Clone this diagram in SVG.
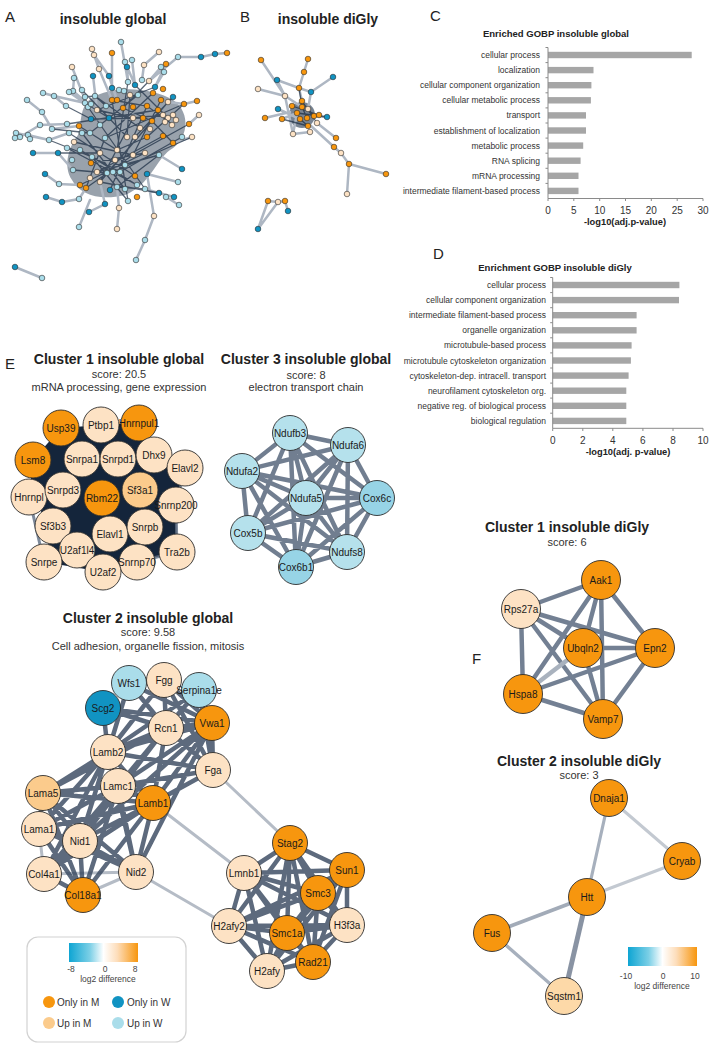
<svg xmlns="http://www.w3.org/2000/svg" width="713" height="1048" viewBox="0 0 713 1048">
<style>
text{font-family:"Liberation Sans",Arial,sans-serif;fill:#222}
.pl{font-size:15px}
.t14{font-size:14px;font-weight:bold;text-anchor:middle}
.t11{font-size:11px;text-anchor:middle;fill:#333}
.nl{font-size:10px;text-anchor:middle;fill:#1a1a1a}
.cl{font-size:8.5px;text-anchor:end;fill:#333}
.ct{font-size:9.5px;font-weight:bold;text-anchor:middle}
.tk{font-size:10px;text-anchor:middle;fill:#333}
.ax{font-size:9.3px;font-weight:bold;text-anchor:middle}
.lg{font-size:8.5px;text-anchor:middle;fill:#444}
.li{font-size:10px;fill:#333}
.o{fill:#F7960E}.u{fill:#FDE2C4}.u2{fill:#FBCB8C}.u3{fill:#FDD9A8}.w{fill:#1193C2}.b{fill:#AADDEA}.b2{fill:#B5E1EC}.b3{fill:#97D4E6}
.hb circle{stroke:#2a2a2a;stroke-width:0.6}
.node circle{stroke:#2e2e2e;stroke-width:0.9}
.bar{fill:#A6A6A6}
.axl{stroke:#8a8a8a;stroke-width:1;fill:none}
.el{fill:none;stroke:#AEB7C3;stroke-width:2.5;stroke-linecap:round}
.ed{fill:none;stroke:#172940;stroke-width:1.3;opacity:0.7}
.ek{fill:none;stroke:#34455C;stroke-width:4.5;opacity:0.8}
.ek3{fill:none;stroke:#4E5E74;stroke-width:4.5;opacity:0.8}
.ef{fill:none;stroke:#5A6A80;stroke-width:4.5;opacity:0.85}
.elt{fill:none;stroke:#B5BCC6;stroke-width:3}
</style>
<defs>
<linearGradient id="lgd" x1="0" x2="1" y1="0" y2="0">
<stop offset="0" stop-color="#0EA5D3"/>
<stop offset="0.3" stop-color="#7BCFE6"/>
<stop offset="0.5" stop-color="#FFFFFF"/>
<stop offset="0.7" stop-color="#FDDDBA"/>
<stop offset="1" stop-color="#F7960E"/>
</linearGradient>
</defs>
<rect width="713" height="1048" fill="#fff"/>

<!-- Panel labels and titles -->
<text class="pl" x="5" y="22">A</text>
<text class="pl" x="240" y="22">B</text>
<text class="pl" x="430" y="21">C</text>
<text class="pl" x="433" y="259">D</text>
<text class="pl" x="5" y="369">E</text>
<text class="pl" x="472" y="664">F</text>
<text class="t14" x="113" y="24">insoluble global</text>
<text class="t14" x="328" y="24">insoluble diGly</text>

<!-- Panel A hairball -->
<g id="netA-edges">
<path d="M92,98 C110,86 150,86 173,100 C192,113 188,140 170,150 C156,160 150,185 125,195 C100,201 80,195 72,180 C62,165 70,145 78,135 C82,120 80,105 92,98 Z" fill="#1C3048" opacity="0.45"/>
<path class="el" d="M121,42L128,82M94,55L109,76M92,49L99,69M112,53L112,88M159,52L144,65M227,53L215,54L201,57L178,57L149,81M125,62L135,85M132,60L135,85M127,67L128,82M144,65L142,80M166,64L155,87M161,67L149,81M164,72L155,87M72,67L88,107M99,69L112,100M93,76L97,110M109,76L117,100M74,78L73,91L85,103M43,93L54,96L66,106M27,100L42,112L52,129M40,125L67,124M52,129L79,126M16,133L49,140L69,133M33,153L58,153L73,170M45,174L59,184L80,185M46,197L62,202L79,199L86,188M89,212L105,204L100,182M119,208L117,187M117,229L119,208M79,227L90,200M154,216L147,174M136,260L145,240L154,216M15,267L42,278M182,169L159,155M178,182L147,174M174,197L159,193L145,189M179,205L166,197M199,115L189,124M197,101L184,104L168,102M192,137L173,143M73,91L95,110M69,92L90,107M54,96L85,103M20,137L40,125M28,135L49,140"/>
<path class="ed" d="M97,110L133,118L163,115M112,100L147,106L172,124M123,108L152,121L173,143M91,119L143,118M85,103L109,118L127,137M79,126L117,150L147,137M69,133L100,153L135,176M74,142L133,155M80,150L120,172M91,163L145,153M97,172L163,136M86,188L105,138M100,182L133,118M110,190L147,106M67,124L158,110M88,107L145,189M128,82L117,150M135,85L168,118M149,81L123,108M155,87L97,110M82,90L109,118M66,106L91,119M52,129L90,133M49,140L92,157M58,153L100,153M73,170L107,173M92,157L137,185M117,187L159,155M107,173L152,121M113,172L192,137M105,138L184,104M130,95L127,137M161,100L133,155M168,102L100,182M85,97L95,96L106,106M95,96L140,128M138,95L90,133M153,93L105,138M173,97L135,137M184,104L147,137M189,124L133,155M182,137L120,172M159,155L97,172M145,153L80,185M133,155L86,188M67,148L137,185M92,157L128,201M100,182L159,193M117,187L145,189M125,189L82,133M128,201L112,100"/>
</g>
<g id="netA-nodes" class="hb">
<circle id="a1" class="b" cx="121" cy="42" r="2.8"/><circle id="a2" class="u" cx="92" cy="49" r="2.8"/><circle id="a3" class="u" cx="94" cy="55" r="2.8"/><circle id="a4" class="o" cx="112" cy="53" r="2.8"/><circle id="a5" class="u" cx="159" cy="52" r="2.8"/><circle id="a6" class="w" cx="215" cy="54" r="2.8"/><circle id="a7" class="o" cx="227" cy="53" r="2.8"/><circle id="a8" class="w" cx="201" cy="57" r="2.8"/><circle id="a9" class="b" cx="178" cy="57" r="2.8"/><circle id="a10" class="b" cx="125" cy="62" r="2.8"/><circle id="a11" class="b" cx="132" cy="60" r="2.8"/><circle id="a12" class="w" cx="127" cy="67" r="2.8"/><circle id="a13" class="u" cx="144" cy="65" r="2.8"/><circle id="a14" class="o" cx="166" cy="64" r="2.8"/><circle id="a15" class="b" cx="161" cy="67" r="2.8"/><circle id="a16" class="b" cx="164" cy="72" r="2.8"/><circle id="a17" class="u" cx="72" cy="67" r="2.8"/><circle id="a18" class="u" cx="99" cy="69" r="2.8"/><circle id="a19" class="w" cx="93" cy="76" r="2.8"/><circle id="a20" class="w" cx="109" cy="76" r="2.8"/>
<circle id="a21" class="b" cx="74" cy="78" r="2.8"/><circle id="a22" class="b" cx="128" cy="82" r="2.8"/><circle id="a23" class="w" cx="135" cy="85" r="2.8"/><circle id="a24" class="b" cx="142" cy="80" r="2.8"/><circle id="a25" class="u" cx="149" cy="81" r="2.8"/><circle id="a26" class="w" cx="155" cy="87" r="2.8"/><circle id="a27" class="o" cx="163" cy="89" r="2.8"/><circle id="a28" class="w" cx="112" cy="88" r="2.8"/><circle id="a29" class="b" cx="119" cy="90" r="2.8"/><circle id="a30" class="b" cx="124" cy="91" r="2.8"/><circle id="a31" class="b" cx="73" cy="91" r="2.8"/><circle id="a32" class="b" cx="69" cy="92" r="2.8"/><circle id="a33" class="b" cx="82" cy="90" r="2.8"/><circle id="a34" class="b" cx="54" cy="96" r="2.8"/><circle id="a35" class="b" cx="43" cy="93" r="2.8"/><circle id="a36" class="b" cx="27" cy="100" r="2.8"/><circle id="a37" class="b" cx="42" cy="112" r="2.8"/><circle id="a38" class="b" cx="85" cy="97" r="2.8"/><circle id="a39" class="b" cx="95" cy="96" r="2.8"/><circle id="a40" class="o" cx="112" cy="100" r="2.8"/>
<circle id="a41" class="o" cx="117" cy="100" r="2.8"/><circle id="a42" class="u" cx="130" cy="95" r="2.8"/><circle id="a43" class="b" cx="138" cy="95" r="2.8"/><circle id="a44" class="o" cx="153" cy="93" r="2.8"/><circle id="a45" class="o" cx="161" cy="100" r="2.8"/><circle id="a46" class="w" cx="173" cy="97" r="2.8"/><circle id="a47" class="o" cx="184" cy="104" r="2.8"/><circle id="a48" class="o" cx="197" cy="101" r="2.8"/><circle id="a49" class="u" cx="199" cy="115" r="2.8"/><circle id="a50" class="u" cx="168" cy="102" r="2.8"/><circle id="a51" class="b" cx="66" cy="106" r="2.8"/><circle id="a52" class="b" cx="85" cy="103" r="2.8"/><circle id="a53" class="b" cx="88" cy="107" r="2.8"/><circle id="a54" class="b" cx="91" cy="104" r="2.8"/><circle id="a55" class="u" cx="97" cy="110" r="2.8"/><circle id="a56" class="b" cx="106" cy="106" r="2.8"/><circle id="a57" class="o" cx="123" cy="108" r="2.8"/><circle id="a58" class="o" cx="133" cy="107" r="2.8"/><circle id="a59" class="o" cx="147" cy="106" r="2.8"/><circle id="a60" class="o" cx="158" cy="110" r="2.8"/>
<circle id="a61" class="u" cx="163" cy="115" r="2.8"/><circle id="a62" class="u" cx="168" cy="118" r="2.8"/><circle id="a63" class="u" cx="173" cy="115" r="2.8"/><circle id="a64" class="u" cx="176" cy="120" r="2.8"/><circle id="a65" class="u" cx="165" cy="122" r="2.8"/><circle id="a66" class="u" cx="172" cy="125" r="2.8"/><circle id="a67" class="b" cx="40" cy="125" r="2.8"/><circle id="a68" class="b" cx="52" cy="129" r="2.8"/><circle id="a69" class="o" cx="79" cy="126" r="2.8"/><circle id="a70" class="b" cx="67" cy="124" r="2.8"/><circle id="a71" class="w" cx="91" cy="119" r="2.8"/><circle id="a72" class="w" cx="109" cy="118" r="2.8"/><circle id="a73" class="u" cx="133" cy="118" r="2.8"/><circle id="a74" class="o" cx="143" cy="118" r="2.8"/><circle id="a75" class="o" cx="152" cy="121" r="2.8"/><circle id="a76" class="o" cx="189" cy="124" r="2.8"/><circle id="a77" class="u" cx="192" cy="137" r="2.8"/><circle id="a78" class="b" cx="182" cy="137" r="2.8"/><circle id="a79" class="o" cx="173" cy="143" r="2.8"/><circle id="a80" class="b" cx="16" cy="133" r="2.8"/>
<circle id="a81" class="b" cx="20" cy="137" r="2.8"/><circle id="a82" class="b" cx="28" cy="135" r="2.8"/><circle id="a83" class="b" cx="15" cy="138" r="2.8"/><circle id="a84" class="b" cx="30" cy="139" r="2.8"/><circle id="a85" class="b" cx="49" cy="140" r="2.8"/><circle id="a86" class="b" cx="69" cy="133" r="2.8"/><circle id="a87" class="u" cx="74" cy="142" r="2.8"/><circle id="a88" class="b" cx="82" cy="133" r="2.8"/><circle id="a89" class="b" cx="90" cy="133" r="2.8"/><circle id="a90" class="b" cx="105" cy="138" r="2.8"/><circle id="a91" class="u" cx="127" cy="137" r="2.8"/><circle id="a92" class="u" cx="135" cy="137" r="2.8"/><circle id="a93" class="o" cx="147" cy="137" r="2.8"/><circle id="a94" class="o" cx="163" cy="136" r="2.8"/><circle id="a95" class="w" cx="33" cy="153" r="2.8"/><circle id="a96" class="w" cx="58" cy="153" r="2.8"/><circle id="a97" class="b" cx="67" cy="148" r="2.8"/><circle id="a98" class="b" cx="80" cy="150" r="2.8"/><circle id="a99" class="b" cx="92" cy="157" r="2.8"/><circle id="a100" class="u" cx="100" cy="153" r="2.8"/>
<circle id="a101" class="u" cx="117" cy="150" r="2.8"/><circle id="a102" class="u" cx="133" cy="155" r="2.8"/><circle id="a103" class="u" cx="145" cy="153" r="2.8"/><circle id="a104" class="b" cx="159" cy="155" r="2.8"/><circle id="a105" class="w" cx="182" cy="169" r="2.8"/><circle id="a106" class="w" cx="45" cy="174" r="2.8"/><circle id="a107" class="b" cx="59" cy="184" r="2.8"/><circle id="a108" class="b" cx="73" cy="170" r="2.8"/><circle id="a109" class="o" cx="91" cy="163" r="2.8"/><circle id="a110" class="u" cx="97" cy="172" r="2.8"/><circle id="a111" class="b" cx="107" cy="173" r="2.8"/><circle id="a112" class="b" cx="113" cy="172" r="2.8"/><circle id="a113" class="b" cx="120" cy="172" r="2.8"/><circle id="a114" class="o" cx="135" cy="176" r="2.8"/><circle id="a115" class="w" cx="147" cy="174" r="2.8"/><circle id="a116" class="o" cx="80" cy="185" r="2.8"/><circle id="a117" class="o" cx="86" cy="188" r="2.8"/><circle id="a118" class="u" cx="100" cy="182" r="2.8"/><circle id="a119" class="w" cx="110" cy="190" r="2.8"/><circle id="a120" class="b" cx="117" cy="187" r="2.8"/>
<circle id="a121" class="b" cx="125" cy="189" r="2.8"/><circle id="a122" class="b" cx="137" cy="185" r="2.8"/><circle id="a123" class="b" cx="145" cy="189" r="2.8"/><circle id="a124" class="b" cx="178" cy="182" r="2.8"/><circle id="a125" class="w" cx="46" cy="197" r="2.8"/><circle id="a126" class="w" cx="62" cy="202" r="2.8"/><circle id="a127" class="b" cx="79" cy="199" r="2.8"/><circle id="a128" class="w" cx="89" cy="212" r="2.8"/><circle id="a129" class="w" cx="105" cy="204" r="2.8"/><circle id="a130" class="u" cx="119" cy="208" r="2.8"/><circle id="a131" class="b" cx="128" cy="201" r="2.8"/><circle id="a132" class="o" cx="137" cy="197" r="2.8"/><circle id="a133" class="w" cx="159" cy="193" r="2.8"/><circle id="a134" class="b" cx="166" cy="197" r="2.8"/><circle id="a135" class="w" cx="174" cy="197" r="2.8"/><circle id="a136" class="b" cx="179" cy="205" r="2.8"/><circle id="a137" class="b" cx="79" cy="227" r="2.8"/><circle id="a138" class="u" cx="117" cy="229" r="2.8"/><circle id="a139" class="u" cx="154" cy="216" r="2.8"/><circle id="a140" class="b" cx="145" cy="240" r="2.8"/>
<circle id="a141" class="b" cx="136" cy="260" r="2.8"/><circle id="a142" class="w" cx="15" cy="267" r="2.8"/><circle id="a143" class="b" cx="42" cy="278" r="2.8"/><circle id="a144" class="u" cx="140" cy="128" r="2.8"/><circle id="a145" class="u" cx="150" cy="129" r="2.8"/><circle id="a146" class="b" cx="100" cy="125" r="2.8"/><circle id="a147" class="u" cx="115" cy="160" r="2.8"/><circle id="a148" class="b" cx="125" cy="165" r="2.8"/><circle id="a149" class="u" cx="90" cy="178" r="2.8"/><circle id="a150" class="b" cx="72" cy="160" r="2.8"/>
</g>

<!-- Panel B network -->
<g id="netB-edges">
<circle cx="302" cy="115" r="13" fill="#1C3048" opacity="0.6"/>
<path class="el" d="M261,60L285,96M308,59L304,72L299,88L302,101M333,77L311,92M277,80L285,96M258,89L285,96L302,107M311,92L308,109M278,109L300,119M265,118L290,112M282,119L297,113M293,134L310,132M293,134L297,113M327,117L314,116M336,138L317,123M334,147L341,153L349,164L347,194M349,164L386,174M334,147L310,125M268,201L278,202L285,201M268,201L258,229M278,202L258,229M285,201L288,211M299,88L311,92L308,109M277,80L299,88M285,96L293,134"/>
<path class="ed" d="M292,106L319,115M297,113L327,117M300,119L308,126M302,107L307,118M308,109L314,116M282,119L308,126M302,101L317,123M299,88L302,107"/>
</g>
<g id="netB-nodes" class="hb">
<circle id="b1" class="o" cx="261" cy="60" r="2.8"/><circle id="b2" class="o" cx="308" cy="59" r="2.8"/><circle id="b3" class="o" cx="304" cy="72" r="2.8"/><circle id="b4" class="w" cx="333" cy="77" r="2.8"/><circle id="b5" class="w" cx="277" cy="80" r="2.8"/><circle id="b6" class="u" cx="258" cy="89" r="2.8"/><circle id="b7" class="o" cx="299" cy="88" r="2.8"/><circle id="b8" class="w" cx="311" cy="92" r="2.8"/><circle id="b9" class="u" cx="285" cy="96" r="2.8"/><circle id="b10" class="o" cx="302" cy="101" r="2.8"/><circle id="b11" class="o" cx="292" cy="106" r="2.8"/><circle id="b12" class="o" cx="302" cy="107" r="2.8"/><circle id="b13" class="u" cx="308" cy="109" r="2.8"/><circle id="b14" class="w" cx="278" cy="109" r="2.8"/><circle id="b15" class="o" cx="297" cy="113" r="2.8"/><circle id="b16" class="o" cx="265" cy="118" r="2.8"/><circle id="b17" class="o" cx="282" cy="119" r="2.8"/><circle id="b18" class="o" cx="300" cy="119" r="2.8"/><circle id="b19" class="o" cx="307" cy="118" r="2.8"/><circle id="b20" class="o" cx="314" cy="116" r="2.8"/>
<circle id="b21" class="o" cx="319" cy="115" r="2.8"/><circle id="b22" class="w" cx="327" cy="117" r="2.8"/><circle id="b23" class="u" cx="317" cy="123" r="2.8"/><circle id="b24" class="o" cx="308" cy="126" r="2.8"/><circle id="b25" class="u" cx="293" cy="134" r="2.8"/><circle id="b26" class="u" cx="310" cy="132" r="2.8"/><circle id="b27" class="o" cx="336" cy="138" r="2.8"/><circle id="b28" class="o" cx="334" cy="147" r="2.8"/><circle id="b29" class="u" cx="341" cy="153" r="2.8"/><circle id="b30" class="o" cx="349" cy="164" r="2.8"/><circle id="b31" class="u" cx="347" cy="194" r="2.8"/><circle id="b32" class="o" cx="386" cy="174" r="2.8"/><circle id="b33" class="o" cx="268" cy="201" r="2.8"/><circle id="b34" class="u" cx="278" cy="202" r="2.8"/><circle id="b35" class="o" cx="285" cy="201" r="2.8"/><circle id="b36" class="w" cx="288" cy="211" r="2.8"/><circle id="b37" class="w" cx="258" cy="229" r="2.8"/>
</g>

<!-- Panel C chart -->
<g id="chartC">
<text class="ct" x="556" y="36.5">Enriched GOBP insoluble global</text>
<rect class="bar" x="548" y="51.8" width="143.7" height="6.4"/>
<rect class="bar" x="548" y="66.9" width="45.5" height="6.4"/>
<rect class="bar" x="548" y="82" width="43.4" height="6.4"/>
<rect class="bar" x="548" y="97.1" width="42.9" height="6.4"/>
<rect class="bar" x="548" y="112.2" width="38" height="6.4"/>
<rect class="bar" x="548" y="127.3" width="38" height="6.4"/>
<rect class="bar" x="548" y="142.4" width="35.2" height="6.4"/>
<rect class="bar" x="548" y="157.5" width="32.6" height="6.4"/>
<rect class="bar" x="548" y="172.6" width="30.5" height="6.4"/>
<rect class="bar" x="548" y="187.7" width="30.5" height="6.4"/>
<text class="cl" x="540" y="58">cellular process</text>
<text class="cl" x="540" y="73.1">localization</text>
<text class="cl" x="540" y="88.2">cellular component organization</text>
<text class="cl" x="540" y="103.3">cellular metabolic process</text>
<text class="cl" x="540" y="118.4">transport</text>
<text class="cl" x="540" y="133.5">establishment of localization</text>
<text class="cl" x="540" y="148.6">metabolic process</text>
<text class="cl" x="540" y="163.7">RNA splicing</text>
<text class="cl" x="540" y="178.8">mRNA processing</text>
<text class="cl" x="540" y="193.9">intermediate filament-based process</text>
<path class="axl" d="M548,47.5V198.5H703M545.5,47.5H548M545.5,62.6H548M545.5,77.7H548M545.5,92.8H548M545.5,107.9H548M545.5,123H548M545.5,138.1H548M545.5,153.2H548M545.5,168.3H548M545.5,183.4H548M548,198.5V201M573.8,198.5V201M599.7,198.5V201M625.5,198.5V201M651.3,198.5V201M677.2,198.5V201M703,198.5V201"/>
<text class="tk" x="548" y="214">0</text><text class="tk" x="573.8" y="214">5</text><text class="tk" x="599.7" y="214">10</text><text class="tk" x="625.5" y="214">15</text><text class="tk" x="651.3" y="214">20</text><text class="tk" x="677.2" y="214">25</text><text class="tk" x="703" y="214">30</text>
<text class="ax" x="625" y="224.5">-log10(adj.p-value)</text>
</g>

<!-- Panel D chart -->
<g id="chartD">
<text class="ct" x="555" y="271">Enrichment GOBP insoluble diGly</text>
<rect class="bar" x="552.7" y="281.8" width="126.7" height="6.4"/>
<rect class="bar" x="552.7" y="296.9" width="126.3" height="6.4"/>
<rect class="bar" x="552.7" y="312" width="83.9" height="6.4"/>
<rect class="bar" x="552.7" y="327.1" width="83.9" height="6.4"/>
<rect class="bar" x="552.7" y="342.2" width="78.9" height="6.4"/>
<rect class="bar" x="552.7" y="357.3" width="78.2" height="6.4"/>
<rect class="bar" x="552.7" y="372.4" width="75.9" height="6.4"/>
<rect class="bar" x="552.7" y="387.5" width="73.6" height="6.4"/>
<rect class="bar" x="552.7" y="402.6" width="73.6" height="6.4"/>
<rect class="bar" x="552.7" y="417.7" width="73.6" height="6.4"/>
<text class="cl" x="546" y="288">cellular process</text>
<text class="cl" x="546" y="303.1">cellular component organization</text>
<text class="cl" x="546" y="318.2">intermediate filament-based process</text>
<text class="cl" x="546" y="333.3">organelle organization</text>
<text class="cl" x="546" y="348.4">microtubule-based process</text>
<text class="cl" x="546" y="363.5">microtubule cytoskeleton organization</text>
<text class="cl" x="546" y="378.6">cytoskeleton-dep. intracell. transport</text>
<text class="cl" x="546" y="393.7">neurofilament cytoskeleton org.</text>
<text class="cl" x="546" y="408.8">negative reg. of biological process</text>
<text class="cl" x="546" y="423.9">biological regulation</text>
<path class="axl" d="M552.7,277.5V428.3H703M550.2,277.5H552.7M550.2,292.6H552.7M550.2,307.7H552.7M550.2,322.7H552.7M550.2,337.8H552.7M550.2,352.9H552.7M550.2,368H552.7M550.2,383.1H552.7M550.2,398.1H552.7M550.2,413.2H552.7M552.7,428.3V431M582.8,428.3V431M612.8,428.3V431M642.9,428.3V431M673,428.3V431M703,428.3V431"/>
<text class="tk" x="552.7" y="444.3">0</text><text class="tk" x="582.8" y="444.3">2</text><text class="tk" x="612.8" y="444.3">4</text><text class="tk" x="642.9" y="444.3">6</text><text class="tk" x="673" y="444.3">8</text><text class="tk" x="703" y="444.3">10</text>
<text class="ax" x="628" y="455">-log10(adj. p-value)</text>
</g>

<!-- E titles -->
<text class="t14" x="119" y="364">Cluster 1 insoluble global</text>
<text class="t11" x="119" y="377.5">score: 20.5</text>
<text class="t11" x="119" y="390.5">mRNA processing, gene expression</text>
<text class="t14" x="306" y="364">Cluster 3 insoluble global</text>
<text class="t11" x="306" y="378.5">score: 8</text>
<text class="t11" x="306" y="391">electron transport chain</text>
<text class="t14" x="148" y="622.5">Cluster 2 insoluble global</text>
<text class="t11" x="148" y="636">score: 9.58</text>
<text class="t11" x="148" y="649.5">Cell adhesion, organelle fission, mitosis</text>
<text class="t14" x="567" y="532">Cluster 1 insoluble diGly</text>
<text class="t11" x="567" y="546">score: 6</text>
<text class="t14" x="579" y="766">Cluster 2 insoluble diGly</text>
<text class="t11" x="579" y="779">score: 3</text>

<!-- connectors -->
<g id="connectors">
<path d="M33,460L61,428L101,425L139,423L154,455L185,468L176,505L177,552L137,562L103,572L44,562L53,526L29,497Z" fill="#14253B"/>
<path fill="none" stroke="#5E6D82" stroke-width="3" opacity="0.8" d="M176,505L177,552M185,468L176,505M29,497L44,562M137,562L177,552"/>
<path class="ek3" d="M290,433L348,445M290,433L242,471M290,433L306,498M290,433L377,498M290,433L248,533M290,433L296,567M290,433L347,552M348,445L242,471M348,445L306,498M348,445L377,498M348,445L248,533M348,445L296,567M348,445L347,552M242,471L306,498M242,471L377,498M242,471L248,533M242,471L296,567M242,471L347,552M306,498L377,498M306,498L248,533M306,498L296,567M306,498L347,552M377,498L248,533M377,498L296,567M377,498L347,552M248,533L296,567M248,533L347,552M296,567L347,552"/>
<path class="elt" d="M213,770L290,843M153,803L244,873M136,872L229,926M44,874L39,829M83,895L136,872M44,874L136,872"/>
<path class="ek" d="M103,708L166,728M103,708L108,752M103,708L212,723M129,683L166,728M129,683L212,723M129,683L108,752M164,680L166,728M164,680L212,723M164,680L213,770M164,680L108,752M199,690L166,728M199,690L213,770M199,690L108,752M166,728L153,803M166,728L118,786M166,728L43,793M166,728L80,841M166,728L108,752M166,728L212,723M166,728L213,770M212,723L153,803M212,723L213,770M212,723L118,786M212,723L108,752M212,723L80,841M212,723L136,872M108,752L118,786M108,752L153,803M108,752L43,793M108,752L39,829M108,752L80,841M108,752L136,872M108,752L44,874M108,752L213,770M118,786L153,803M118,786L43,793M118,786L39,829M118,786L80,841M118,786L136,872M118,786L83,895M118,786L44,874M118,786L213,770M153,803L43,793M153,803L39,829M153,803L80,841M153,803L136,872M153,803L83,895M153,803L213,770M153,803L44,874M43,793L39,829M43,793L80,841M43,793L136,872M43,793L83,895M39,829L80,841M39,829L83,895M39,829L136,872M80,841L44,874M80,841L83,895M80,841L136,872M44,874L83,895"/>
<path class="ek" d="M290,843L244,873M290,843L347,870M290,843L318,893M290,843L347,925M290,843L229,926M290,843L287,933M290,843L313,962M290,843L267,971M244,873L347,870M244,873L318,893M244,873L347,925M244,873L229,926M244,873L287,933M244,873L313,962M244,873L267,971M347,870L318,893M347,870L347,925M347,870L229,926M347,870L287,933M347,870L313,962M347,870L267,971M318,893L347,925M318,893L229,926M318,893L287,933M318,893L313,962M318,893L267,971M347,925L229,926M347,925L287,933M347,925L313,962M347,925L267,971M229,926L287,933M229,926L313,962M229,926L267,971M287,933L313,962M287,933L267,971M313,962L267,971"/>
<path class="ef" d="M601,580L521,609M601,580L583,648M601,580L655,648M601,580L523,694M601,580L603,719M521,609L583,648M521,609L655,648M521,609L523,694M521,609L603,719M583,648L655,648M583,648L603,719M655,648L523,694M655,648L603,719M523,694L603,719"/>
<path d="M583,648L523,694" fill="none" stroke="#A9B2BE" stroke-width="4.5"/>
<path fill="none" stroke="#A7B0BD" stroke-width="3.2" d="M609,798L587,897M492,933L564,996"/>
<path fill="none" stroke="#C3C9D1" stroke-width="3" d="M609,798L682,861M587,897L682,861"/>
<path fill="none" stroke="#A2ABB8" stroke-width="3.8" d="M587,897L492,933"/>
<path fill="none" stroke="#8993A3" stroke-width="5" d="M587,897L564,996"/>
</g>

<!-- Cluster 1 nodes -->
<g id="n-Usp39" class="node"><circle cx="61" cy="428" r="18" class="o"/><text class="nl" x="61" y="431.5">Usp39</text></g>
<g id="n-Ptbp1" class="node"><circle cx="101" cy="425" r="18" class="u"/><text class="nl" x="101" y="428.5">Ptbp1</text></g>
<g id="n-Hnrnpul1" class="node"><circle cx="139" cy="423" r="18" class="o"/><text class="nl" x="139" y="426.5">Hnrnpul1</text></g>
<g id="n-Lsm8" class="node"><circle cx="33" cy="460" r="18" class="o"/><text class="nl" x="33" y="463.5">Lsm8</text></g>
<g id="n-Snrpa1" class="node"><circle cx="82" cy="459" r="18" class="u"/><text class="nl" x="82" y="462.5">Snrpa1</text></g>
<g id="n-Snrpd1" class="node"><circle cx="118" cy="459" r="18" class="u"/><text class="nl" x="118" y="462.5">Snrpd1</text></g>
<g id="n-Dhx9" class="node"><circle cx="154" cy="455" r="18" class="u"/><text class="nl" x="154" y="458.5">Dhx9</text></g>
<g id="n-Elavl2" class="node"><circle cx="185" cy="468" r="18" class="u"/><text class="nl" x="185" y="471.5">Elavl2</text></g>
<g id="n-Hnrnpl" class="node"><circle cx="29" cy="497" r="18" class="u"/><text class="nl" x="29" y="500.5">Hnrnpl</text></g>
<g id="n-Snrpd3" class="node"><circle cx="63" cy="490" r="18" class="u"/><text class="nl" x="63" y="493.5">Snrpd3</text></g>
<g id="n-Rbm22" class="node"><circle cx="102" cy="498" r="18" class="o"/><text class="nl" x="102" y="501.5">Rbm22</text></g>
<g id="n-Sf3a1" class="node"><circle cx="140" cy="490" r="18" class="u2"/><text class="nl" x="140" y="493.5">Sf3a1</text></g>
<g id="n-Snrnp200" class="node"><circle cx="176" cy="505" r="18" class="u"/><text class="nl" x="176" y="508.5">Snrnp200</text></g>
<g id="n-Sf3b3" class="node"><circle cx="53" cy="526" r="18" class="u"/><text class="nl" x="53" y="529.5">Sf3b3</text></g>
<g id="n-Elavl1" class="node"><circle cx="110" cy="534" r="18" class="u"/><text class="nl" x="110" y="537.5">Elavl1</text></g>
<g id="n-Snrpb" class="node"><circle cx="145" cy="527" r="18" class="u"/><text class="nl" x="145" y="530.5">Snrpb</text></g>
<g id="n-Tra2b" class="node"><circle cx="177" cy="552" r="18" class="u"/><text class="nl" x="177" y="555.5">Tra2b</text></g>
<g id="n-U2af1l4" class="node"><circle cx="77" cy="550" r="18" class="u"/><text class="nl" x="77" y="553.5">U2af1l4</text></g>
<g id="n-Snrpe" class="node"><circle cx="44" cy="562" r="18" class="u"/><text class="nl" x="44" y="565.5">Snrpe</text></g>
<g id="n-Snrnp70" class="node"><circle cx="137" cy="562" r="18" class="u"/><text class="nl" x="137" y="565.5">Snrnp70</text></g>
<g id="n-U2af2" class="node"><circle cx="103" cy="572" r="18" class="u"/><text class="nl" x="103" y="575.5">U2af2</text></g>

<!-- Cluster 3 nodes -->
<g id="n-Ndufb3" class="node"><circle cx="290" cy="433" r="17.5" class="b2"/><text class="nl" x="290" y="436.5">Ndufb3</text></g>
<g id="n-Ndufa6" class="node"><circle cx="348" cy="445" r="17.5" class="b2"/><text class="nl" x="348" y="448.5">Ndufa6</text></g>
<g id="n-Ndufa2" class="node"><circle cx="242" cy="471" r="17.5" class="b2"/><text class="nl" x="242" y="474.5">Ndufa2</text></g>
<g id="n-Ndufa5" class="node"><circle cx="306" cy="498" r="17.5" class="b2"/><text class="nl" x="306" y="501.5">Ndufa5</text></g>
<g id="n-Cox6c" class="node"><circle cx="377" cy="498" r="17.5" class="b3"/><text class="nl" x="377" y="501.5">Cox6c</text></g>
<g id="n-Cox5b" class="node"><circle cx="248" cy="533" r="17.5" class="b2"/><text class="nl" x="248" y="536.5">Cox5b</text></g>
<g id="n-Cox6b1" class="node"><circle cx="296" cy="567" r="17.5" class="b3"/><text class="nl" x="296" y="570.5">Cox6b1</text></g>
<g id="n-Ndufs8" class="node"><circle cx="347" cy="552" r="17.5" class="b2"/><text class="nl" x="347" y="555.5">Ndufs8</text></g>

<!-- Cluster 2 nodes -->
<g id="n-Wfs1" class="node"><circle cx="129" cy="683" r="17.5" class="b"/><text class="nl" x="129" y="686.5">Wfs1</text></g>
<g id="n-Fgg" class="node"><circle cx="164" cy="680" r="17.5" class="u"/><text class="nl" x="164" y="683.5">Fgg</text></g>
<g id="n-Serpina1e" class="node"><circle cx="199" cy="690" r="17.5" class="b"/><text class="nl" x="199" y="693.5">Serpina1e</text></g>
<g id="n-Scg2" class="node"><circle cx="103" cy="708" r="17.5" class="w"/><text class="nl" x="103" y="711.5">Scg2</text></g>
<g id="n-Rcn1" class="node"><circle cx="166" cy="728" r="17.5" class="u"/><text class="nl" x="166" y="731.5">Rcn1</text></g>
<g id="n-Vwa1" class="node"><circle cx="212" cy="723" r="17.5" class="o"/><text class="nl" x="212" y="726.5">Vwa1</text></g>
<g id="n-Lamb2" class="node"><circle cx="108" cy="752" r="17.5" class="u"/><text class="nl" x="108" y="755.5">Lamb2</text></g>
<g id="n-Fga" class="node"><circle cx="213" cy="770" r="17.5" class="u"/><text class="nl" x="213" y="773.5">Fga</text></g>
<g id="n-Lamc1" class="node"><circle cx="118" cy="786" r="17.5" class="u"/><text class="nl" x="118" y="789.5">Lamc1</text></g>
<g id="n-Lama5" class="node"><circle cx="43" cy="793" r="17.5" class="u2"/><text class="nl" x="43" y="796.5">Lama5</text></g>
<g id="n-Lamb1" class="node"><circle cx="153" cy="803" r="17.5" class="o"/><text class="nl" x="153" y="806.5">Lamb1</text></g>
<g id="n-Lama1" class="node"><circle cx="39" cy="829" r="17.5" class="u"/><text class="nl" x="39" y="832.5">Lama1</text></g>
<g id="n-Nid1" class="node"><circle cx="80" cy="841" r="17.5" class="u"/><text class="nl" x="80" y="844.5">Nid1</text></g>
<g id="n-Col4a1" class="node"><circle cx="44" cy="874" r="17.5" class="u"/><text class="nl" x="44" y="877.5">Col4a1</text></g>
<g id="n-Nid2" class="node"><circle cx="136" cy="872" r="17.5" class="u"/><text class="nl" x="136" y="875.5">Nid2</text></g>
<g id="n-Col18a1" class="node"><circle cx="83" cy="895" r="17.5" class="o"/><text class="nl" x="83" y="898.5">Col18a1</text></g>
<g id="n-Stag2" class="node"><circle cx="290" cy="843" r="17.5" class="o"/><text class="nl" x="290" y="846.5">Stag2</text></g>
<g id="n-Lmnb1" class="node"><circle cx="244" cy="873" r="17.5" class="u"/><text class="nl" x="244" y="876.5">Lmnb1</text></g>
<g id="n-Sun1" class="node"><circle cx="347" cy="870" r="17.5" class="o"/><text class="nl" x="347" y="873.5">Sun1</text></g>
<g id="n-Smc3" class="node"><circle cx="318" cy="893" r="17.5" class="o"/><text class="nl" x="318" y="896.5">Smc3</text></g>
<g id="n-H3f3a" class="node"><circle cx="347" cy="925" r="17.5" class="u"/><text class="nl" x="347" y="928.5">H3f3a</text></g>
<g id="n-H2afy2" class="node"><circle cx="229" cy="926" r="17.5" class="u"/><text class="nl" x="229" y="929.5">H2afy2</text></g>
<g id="n-Smc1a" class="node"><circle cx="287" cy="933" r="17.5" class="o"/><text class="nl" x="287" y="936.5">Smc1a</text></g>
<g id="n-Rad21" class="node"><circle cx="313" cy="962" r="17.5" class="o"/><text class="nl" x="313" y="965.5">Rad21</text></g>
<g id="n-H2afy" class="node"><circle cx="267" cy="971" r="17.5" class="u"/><text class="nl" x="267" y="974.5">H2afy</text></g>

<!-- Legend E -->
<g id="legendE">
<rect x="27" y="937" width="159" height="105" rx="11" fill="#fff" stroke="#D2D2D2" stroke-width="1.2"/>
<rect x="69" y="943" width="69" height="19" fill="url(#lgd)"/>
<text class="lg" x="71" y="972">-8</text><text class="lg" x="105" y="972">0</text><text class="lg" x="135" y="972">8</text>
<text class="lg" x="108" y="982">log2 difference</text>
<circle cx="49" cy="1002" r="6" class="o"/><text class="li" x="57" y="1005.5">Only in M</text>
<circle cx="118" cy="1002" r="6" class="w"/><text class="li" x="127" y="1005.5">Only in W</text>
<circle cx="49" cy="1023" r="6" class="u2"/><text class="li" x="57" y="1026.5">Up in M</text>
<circle cx="118" cy="1023" r="6" class="b"/><text class="li" x="127" y="1026.5">Up in W</text>
</g>

<!-- F Cluster 1 nodes -->
<g id="n-Aak1" class="node"><circle cx="601" cy="580" r="19.5" class="o"/><text class="nl" x="601" y="583.5">Aak1</text></g>
<g id="n-Rps27a" class="node"><circle cx="521" cy="609" r="19.5" class="u"/><text class="nl" x="521" y="612.5">Rps27a</text></g>
<g id="n-Ubqln2" class="node"><circle cx="583" cy="648" r="19.5" class="o"/><text class="nl" x="583" y="651.5">Ubqln2</text></g>
<g id="n-Epn2" class="node"><circle cx="655" cy="648" r="19.5" class="o"/><text class="nl" x="655" y="651.5">Epn2</text></g>
<g id="n-Hspa8" class="node"><circle cx="523" cy="694" r="19.5" class="o"/><text class="nl" x="523" y="697.5">Hspa8</text></g>
<g id="n-Vamp7" class="node"><circle cx="603" cy="719" r="19.5" class="o"/><text class="nl" x="603" y="722.5">Vamp7</text></g>

<!-- F Cluster 2 nodes -->
<g id="n-Dnaja1" class="node"><circle cx="609" cy="798" r="18.5" class="o"/><text class="nl" x="609" y="801.5">Dnaja1</text></g>
<g id="n-Cryab" class="node"><circle cx="682" cy="861" r="18.5" class="o"/><text class="nl" x="682" y="864.5">Cryab</text></g>
<g id="n-Htt" class="node"><circle cx="587" cy="897" r="18.5" class="o"/><text class="nl" x="587" y="900.5">Htt</text></g>
<g id="n-Fus" class="node"><circle cx="492" cy="933" r="18.5" class="o"/><text class="nl" x="492" y="936.5">Fus</text></g>
<g id="n-Sqstm1" class="node"><circle cx="564" cy="996" r="18.5" class="u3"/><text class="nl" x="564" y="999.5">Sqstm1</text></g>

<!-- Legend F -->
<g id="legendF">
<rect x="628" y="947" width="69" height="19" fill="url(#lgd)"/>
<text class="lg" x="626" y="979">-10</text><text class="lg" x="663" y="979">0</text><text class="lg" x="695" y="979">10</text>
<text class="lg" x="662" y="989">log2 difference</text>
</g>
</svg>
